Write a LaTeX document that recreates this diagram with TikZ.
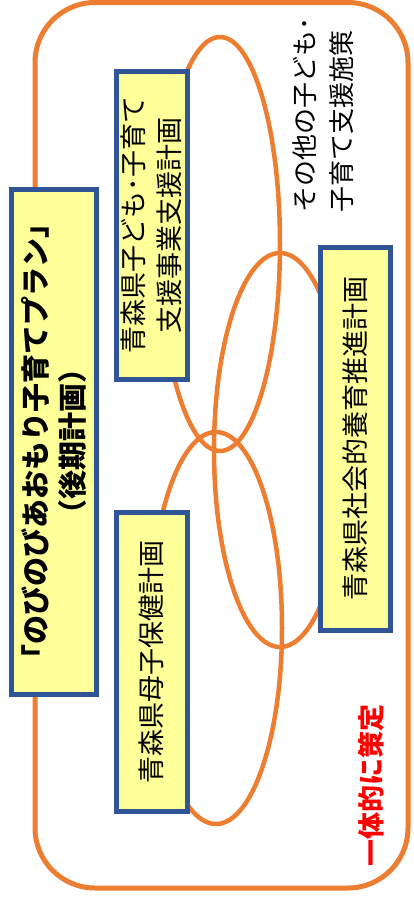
\documentclass[tikz,border=0pt]{standalone}
\usepackage{fontspec}
\setmainfont{Noto Sans CJK JP}
\newfontfamily\jp{Noto Sans CJK JP}
\definecolor{orng}{HTML}{ED7D31}
\definecolor{bblue}{HTML}{2F5597}
\definecolor{yel}{HTML}{FFFF99}
\tikzset{
  planbox/.style={draw=bblue, fill=yel, line width=5pt, rotate=90, inner sep=0pt,
    align=center, font=\jp\fontsize{27}{36}\selectfont},
  ring/.style={draw=orng, line width=4.5pt},
  frame/.style={draw=orng, line width=5pt, rounded corners=60pt},
  vtext/.style={rotate=90, inner sep=0pt, font=\jp\fontsize{26}{37}\selectfont}
}
\begin{document}
\begin{tikzpicture}[x=1pt,y=-1pt]
\useasboundingbox (0,0) rectangle (413,905);
% outer frame
\draw[frame] (35,2.5) rectangle (408,888);
% overlapping rings
\draw[ring] (220,244) ellipse [x radius=60pt, y radius=207pt];
\draw[ring] (280,450) ellipse [x radius=66pt, y radius=197pt];
\draw[ring] (216,628) ellipse [x radius=66pt, y radius=196pt];
% boxes
\node[planbox, minimum width=505pt, minimum height=85pt, font=\jp\bfseries\fontsize{29}{37}\selectfont]
  (main) at (53.5,441.5) {「のびのびあおもり子育てプラン」\\（後期計画）};
\node[planbox, minimum width=308pt, minimum height=71pt]
  (kodomo) at (151.5,225) {青森県子ども･子育て\\支援事業支援計画};
\node[planbox, minimum width=383pt, minimum height=70pt]
  (shakai) at (355,438.5) {青森県社会的養育推進計画};
\node[planbox, minimum width=299pt, minimum height=71pt]
  (boshi) at (151.5,661.5) {青森県母子保健計画};
% other texts
\node[vtext, align=left, anchor=west] (other) at (323.5,213) {その他の子ども･\\子育て支援施策};
\node[vtext, text=red, font=\jp\bfseries\fontsize{27}{36}\selectfont] (ittai) at (371,785) {一体的に策定};
\end{tikzpicture}
\end{document}
